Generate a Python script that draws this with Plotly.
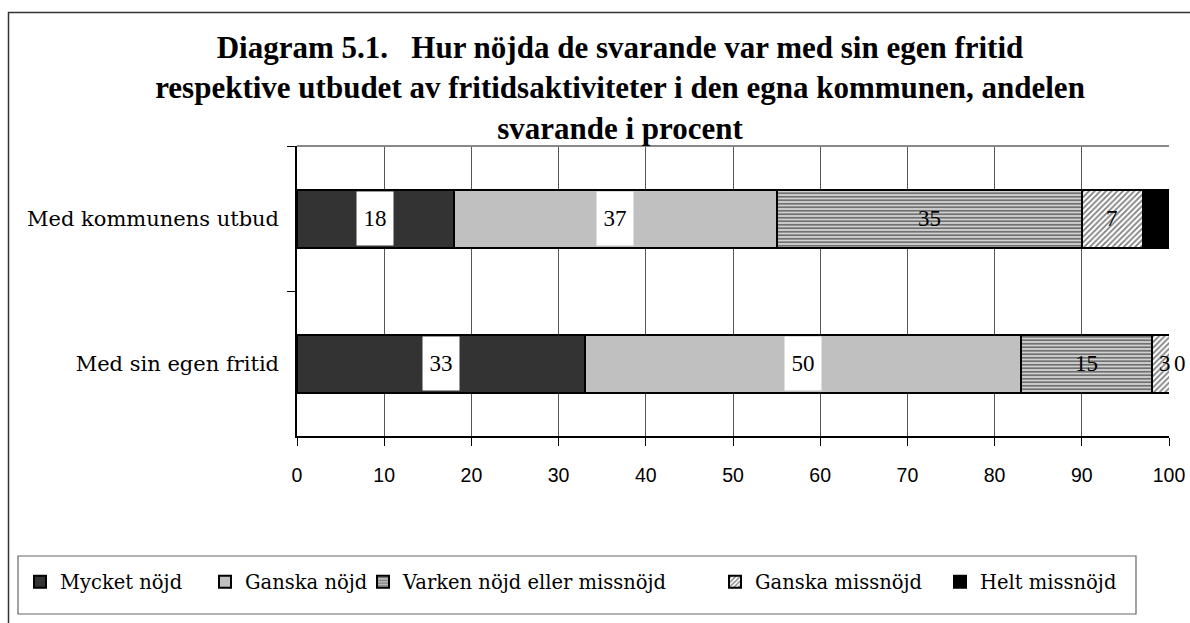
import plotly.graph_objects as go

# ---- data ----
categories = ["Med kommunens utbud", "Med sin egen fritid"]
series_names = ["Mycket nöjd", "Ganska nöjd", "Varken nöjd eller missnöjd",
                "Ganska missnöjd", "Helt missnöjd"]
mycket_nojd = [18, 33]
ganska_nojd = [37, 50]
varken_nojd = [35, 15]
ganska_missnojd = [7, 3]
helt_missnojd = [3, 0]
x_ticks = [0, 10, 20, 30, 40, 50, 60, 70, 80, 90, 100]

series_values = [mycket_nojd, ganska_nojd, varken_nojd, ganska_missnojd, helt_missnojd]

# ---- layout geometry (pixels) ----
W, H = 1190, 623
L, R, T, B = 297, 21, 146, 187
PW, PH = W - L - R, H - T - B
X_MAX = 100


def px_x(px):
    return (px - L) / PW


def px_y(py):
    return (H - B - py) / PH


styles = [
    dict(color="#333333"),
    dict(color="#C0C0C0"),
    dict(color="#C8C8C8", pattern=dict(shape="-", fgcolor="#111111", bgcolor="#D0D0D0",
                                       size=3.5, solidity=0.5)),
    dict(color="#FFFFFF", pattern=dict(shape="/", fgcolor="#000000", bgcolor="#FFFFFF",
                                       size=4, solidity=0.45)),
    dict(color="#000000"),
]
label_box = [True, True, False, False, False]
legend_symbol_centers = [40, 225, 383, 735, 960]

serif = "DejaVu Serif"

fig = go.Figure()
for k, (name, vals) in enumerate(zip(series_names, series_values)):
    st = styles[k]
    marker = dict(color=st["color"], line=dict(color="#000000", width=2))
    if "pattern" in st:
        marker["pattern"] = st["pattern"]
    lg = "legend" if k == 0 else f"legend{k + 1}"
    fig.add_trace(go.Bar(
        y=categories, x=vals, name=name, orientation="h", marker=marker,
        width=0.40, legend=lg, hoverinfo="skip",
    ))

# data labels
annotations = []
for i, cat in enumerate(categories):
    start = 0
    for k, vals in enumerate(series_values):
        v = vals[i]
        center = start + v / 2
        ann = dict(x=center, y=cat, xref="x", yref="y", text=str(v), showarrow=False,
                   font=dict(family="Liberation Serif", size=23, color="#000000"))
        if center > X_MAX:
            # label of an empty segment past the end of the axis: just right of the edge
            ann.update(x=X_MAX, xshift=(center - X_MAX) * PW / X_MAX + 2)
        if label_box[k]:
            ann.update(bgcolor="#FFFFFF", width=34, height=51)
        annotations.append(ann)
        start += v

# legends (one per series so each entry sits where it does in the original)
legend_layouts = {}
for k in range(5):
    key = "legend" if k == 0 else f"legend{k + 1}"
    legend_layouts[key] = dict(
        x=px_x(legend_symbol_centers[k] - 20), y=px_y(582), xanchor="left", yanchor="middle",
        orientation="h", bgcolor="rgba(0,0,0,0)", borderwidth=0,
        font=dict(family=serif, size=19.5, color="#000000"),
        itemwidth=30, traceorder="normal",
    )

shapes = [
    # outer chart border (right/bottom edges fall outside the picture)
    dict(type="rect", xref="paper", yref="paper", x0=px_x(8.5), x1=px_x(1215),
         y0=px_y(650), y1=px_y(12.5), line=dict(color="#333333", width=1.5), layer="below"),
    # legend box
    dict(type="rect", xref="paper", yref="paper", x0=px_x(18), x1=px_x(1136),
         y0=px_y(614), y1=px_y(556), line=dict(color="#666666", width=1.2)),
    # top border of plot area
    dict(type="line", xref="paper", yref="paper", x0=0, x1=1, y0=1, y1=1,
         line=dict(color="#888888", width=2)),
]

fig.update_layout(
    width=W, height=H,
    margin=dict(l=L, r=R, t=T, b=B, autoexpand=False),
    barmode="stack",
    paper_bgcolor="#FFFFFF",
    plot_bgcolor="#FFFFFF",
    title=dict(
        text="<b>Diagram 5.1.   Hur nöjda de svarande var med sin egen fritid<br>"
             "respektive utbudet av fritidsaktiviteter i den egna kommunen, andelen<br>"
             "svarande i procent</b>",
        x=620 / W, xanchor="center", xref="container",
        y=1 - 58 / H, yanchor="top", yref="container",
        font=dict(family="Liberation Serif", size=31, color="#000000"),
    ),
    xaxis=dict(
        range=[0, X_MAX], tickvals=x_ticks, ticktext=[str(t) for t in x_ticks],
        showgrid=True, gridcolor="#555555", gridwidth=1,
        showline=True, linecolor="#000000", linewidth=1.5,
        ticks="outside", ticklen=8, tickcolor="#000000", tickwidth=1,
        tickfont=dict(family="Liberation Sans", size=19.5, color="#000000"),
        ticklabelstandoff=13,
        zeroline=False, fixedrange=True,
    ),
    yaxis=dict(
        type="category", categoryorder="array", categoryarray=categories,
        range=[1.5, -0.5],
        showline=True, linecolor="#000000", linewidth=1.5,
        ticks="outside", tickson="boundaries", ticklen=8, tickcolor="#000000",
        tickfont=dict(family=serif, size=21, color="#000000"),
        ticklabelstandoff=12,
        showgrid=False, zeroline=False, fixedrange=True,
    ),
    annotations=annotations,
    shapes=shapes,
    showlegend=True,
    **legend_layouts,
)

# remove the default page margin so the figure fills the 1190x623 window exactly
fig.write_html(
    "out.html",
    config={"displayModeBar": False},
    post_script="document.body.style.margin='0';document.body.style.overflow='hidden';",
)
